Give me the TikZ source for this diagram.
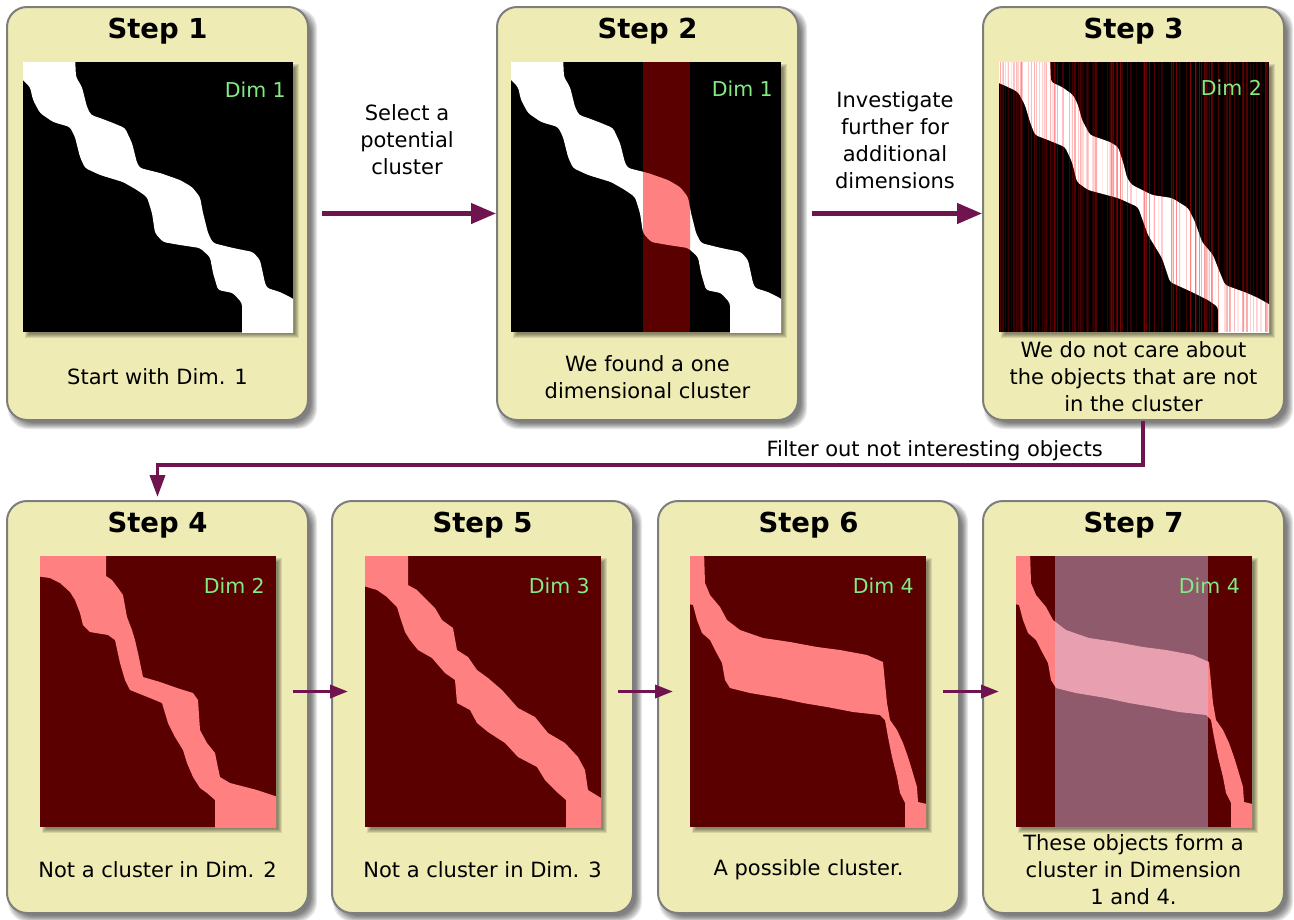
\documentclass[tikz,border=0pt]{standalone}
\usepackage{fontspec}
\setmainfont{DejaVu Sans}
\usetikzlibrary{arrows.meta,calc}
\definecolor{cardfill}{RGB}{238,236,180}
\definecolor{cardborder}{RGB}{125,125,125}
\definecolor{arrowc}{RGB}{112,20,80}
\definecolor{dimgreen}{RGB}{130,235,130}
\definecolor{dred}{RGB}{90,0,0}
\definecolor{pinkc}{RGB}{255,128,128}
\definecolor{mauve}{RGB}{143,90,108}
\definecolor{lpink}{RGB}{232,160,176}
\pgfdeclarelayer{shadow}
\pgfsetlayers{shadow,main}

\newcommand\shapeA[1]{\fill[#1,rounded corners=3pt] (-5,-5) -- (52,-5) -- (53,15) -- (59,25) -- (64,45) -- (68,53) -- (77,56) -- (90,61) -- (102,66) -- (109,81) -- (114,101) -- (117,106) -- (137,111) -- (157,118) -- (169,125) -- (177,135) -- (180,151) -- (185,171) -- (190,181) -- (210,186) -- (230,190) -- (237,198) -- (242,221) -- (244,226) -- (257,230) -- (267,235) -- (275,240) -- (275,275) -- (219,275) -- (219,241) -- (210,231) -- (195,228) -- (190,211) -- (187,195) -- (177,186) -- (157,183) -- (140,180) -- (132,171) -- (129,151) -- (124,135) -- (114,128) -- (100,120) -- (77,113) -- (62,106) -- (57,95) -- (52,75) -- (47,65) -- (30,60) -- (17,51) -- (10,38) -- (7,25) -- (-5,13) -- cycle;}
\newcommand\shapeB[1]{\fill[#1,rounded corners=3pt] (-5,-5) -- (51,-5) -- (52,20) -- (63,25) -- (74,33) -- (79,43) -- (83,58) -- (91,73) -- (111,80) -- (119,85) -- (124,100) -- (128,116) -- (133,123) -- (153,133) -- (173,136) -- (189,146) -- (196,160) -- (203,180) -- (214,193) -- (219,206) -- (226,223) -- (248,231) -- (259,236) -- (275,245) -- (275,275) -- (219,275) -- (219,245) -- (209,238) -- (193,230) -- (171,220) -- (163,196) -- (149,173) -- (139,145) -- (119,136) -- (89,128) -- (78,120) -- (73,100) -- (66,85) -- (49,78) -- (36,73) -- (31,60) -- (26,43) -- (19,30) -- (9,25) -- (-5,19) -- cycle;}
\newcommand\shapeC[1]{\fill[#1] (-5,-5) -- (66,-5) -- (66,20) -- (72,24) -- (78,32) -- (83,39) -- (87,61) -- (92,74) -- (95,84) -- (98,97) -- (103,121) -- (120,126) -- (137,132) -- (153,137) -- (158,144) -- (160,174) -- (167,187) -- (175,197) -- (177,207) -- (180,221) -- (190,227) -- (217,234) -- (241,242) -- (241,276) -- (175,276) -- (175,244) -- (167,237) -- (160,232) -- (153,221) -- (147,207) -- (143,194) -- (135,181) -- (128,167) -- (122,147) -- (110,142) -- (90,134) -- (85,124) -- (80,107) -- (75,84) -- (68,79) -- (50,76) -- (43,69) -- (40,57) -- (35,44) -- (30,36) -- (20,27) -- (10,22) -- (-5,20) -- cycle;}
\newcommand\shapeE[1]{\fill[#1] (-5,-5) -- (43,-5) -- (43,29) -- (52,34) -- (60,42) -- (70,52) -- (77,64) -- (88,72) -- (92,94) -- (103,101) -- (112,114) -- (123,122) -- (137,134) -- (153,152) -- (170,161) -- (183,177) -- (200,187) -- (213,201) -- (220,214) -- (223,234) -- (241,245) -- (241,276) -- (201,276) -- (201,244) -- (193,237) -- (180,224) -- (172,211) -- (153,201) -- (140,187) -- (123,176) -- (112,167) -- (105,154) -- (92,147) -- (90,124) -- (80,117) -- (67,102) -- (53,94) -- (45,84) -- (40,76) -- (35,61) -- (32,51) -- (22,41) -- (12,34) -- (-5,29) -- cycle;}
\newcommand\shapeD[1]{\fill[#1] (-5,-5) -- (14,-5) -- (15,27) -- (20,39) -- (30,51) -- (37,64) -- (50,74) -- (73,82) -- (100,86) -- (127,91) -- (150,94) -- (177,99) -- (193,106) -- (197,147) -- (200,164) -- (207,174) -- (213,187) -- (218,201) -- (222,214) -- (227,231) -- (228,246) -- (241,249) -- (241,276) -- (215,276) -- (215,247) -- (210,237) -- (207,221) -- (202,201) -- (198,181) -- (195,164) -- (190,159) -- (163,156) -- (137,151) -- (113,147) -- (90,142) -- (60,137) -- (40,132) -- (35,124) -- (32,107) -- (25,94) -- (20,84) -- (12,77) -- (7,64) -- (3,49) -- (-5,47) -- cycle;}

\newcommand\cardshadow[1]{%
  \foreach \e in {0,...,6}{%
    \pgfmathsetmacro\lo{8-\e}%
    \pgfmathsetmacro\hi{2+\e}%
    \fill[black,opacity=0.09,rounded corners=20pt] ($(#1.north west)+(\lo,\lo)$) rectangle ($(#1.south east)+(\hi,\hi)$);}}
\newcommand\imgshadow[1]{%
  \foreach \e in {0,...,4}{%
    \pgfmathsetmacro\lo{6-\e}%
    \pgfmathsetmacro\hi{2+\e}%
    \fill[black,opacity=0.1] ($(#1.north west)+(\lo,\lo)$) rectangle ($(#1.south east)+(\hi,\hi)$);}}

\begin{document}
\begin{tikzpicture}[x=1pt,y=-1pt,
  card/.style={draw=cardborder,line width=2pt,fill=cardfill,rounded corners=20pt,minimum width=301pt,minimum height=413pt,inner sep=0pt},
  picTop/.style={minimum width=270pt,minimum height=270pt,inner sep=0pt,outer sep=0pt},
  picBot/.style={minimum width=236pt,minimum height=271pt,inner sep=0pt,outer sep=0pt},
  ttl/.style={font=\fontsize{27.5}{33}\selectfont\bfseries,anchor=base,inner sep=0pt},
  body/.style={font=\fontsize{21}{27}\selectfont,align=center,inner sep=0pt},
  lbl/.style={font=\fontsize{21}{27}\selectfont,align=center,inner sep=0pt},
  dimlbl/.style={font=\fontsize{20.5}{24}\selectfont,text=dimgreen,anchor=base east,inner sep=0pt},
  arrT/.style={draw=arrowc,line width=4.5pt,-{Triangle[length=25pt,width=20pt]}},
  arrB/.style={draw=arrowc,line width=3.5pt,-{Triangle[length=18pt,width=13pt]}},
  arrF/.style={draw=arrowc,line width=3.5pt,-{Triangle[length=22pt,width=15pt]},shorten >=3pt}
]
\useasboundingbox (0,0) rectangle (1294,919);

% cards
\node[card] (c1) at (157.5,213.5) {};
\node[card] (c2) at (647.5,213.5) {};
\node[card] (c3) at (1133.5,213.5) {};
\node[card,minimum height=412pt] (c4) at (157.5,707) {};
\node[card,minimum height=412pt] (c5) at (482.5,707) {};
\node[card,minimum height=412pt] (c6) at (808.5,707) {};
\node[card,minimum height=412pt] (c7) at (1133.5,707) {};

\begin{pgfonlayer}{shadow}
  \fill[white] (0,0) rectangle (1294,919);
  \foreach \c in {c1,c2,c3,c4,c5,c6,c7}{\cardshadow{\c}}
\end{pgfonlayer}

% titles
\foreach \n in {1,...,7}{\node[ttl] (t\n) at ($(c\n.north)+(0,32)$) {Step \n};}

% image frames
\node[picTop] (i1) at (158,197) {};
\node[picTop] (i2) at (646,197) {};
\node[picTop] (i3) at (1134,197) {};
\node[picBot] (i4) at (158,691.5) {};
\node[picBot] (i5) at (483,691.5) {};
\node[picBot] (i6) at (808,691.5) {};
\node[picBot] (i7) at (1134,691.5) {};
\foreach \c in {i1,i2,i3,i4,i5,i6,i7}{\imgshadow{\c}}

% step 1
\begin{scope}[shift={(i1.north west)}]
  \clip (0,0) rectangle (270,270);
  \fill[black] (0,0) rectangle (270,270);
  \shapeA{white}
\end{scope}
% step 2
\begin{scope}[shift={(i2.north west)}]
  \clip (0,0) rectangle (270,270);
  \fill[black] (0,0) rectangle (270,270);
  \shapeA{white}
  \fill[dred] (132,0) rectangle (179,270);
  \begin{scope}
    \clip (132,0) rectangle (179,270);
    \shapeA{pinkc}
  \end{scope}
\end{scope}
% step 3
\begin{scope}[shift={(i3.north west)}]
  \clip (0,0) rectangle (270,270);
  \fill[black] (0,0) rectangle (270,270);
  \shapeB{white}
  \pgfmathsetseed{4242}
  \foreach \k in {1,...,150}{%
    \pgfmathsetmacro\sx{rnd*270}%
    \pgfmathsetmacro\so{0.04+0.3*rnd}%
    \pgfmathsetmacro\sw{0.4+1.2*rnd}%
    \draw[red,opacity=\so,line width=\sw pt] (\sx,0) -- (\sx,270);}
\end{scope}
% step 4
\begin{scope}[shift={(i4.north west)}]
  \clip (0,0) rectangle (236,271);
  \fill[dred] (0,0) rectangle (236,271);
  \shapeC{pinkc}
\end{scope}
% step 5
\begin{scope}[shift={(i5.north west)}]
  \clip (0,0) rectangle (236,271);
  \fill[dred] (0,0) rectangle (236,271);
  \shapeE{pinkc}
\end{scope}
% step 6
\begin{scope}[shift={(i6.north west)}]
  \clip (0,0) rectangle (236,271);
  \fill[dred] (0,0) rectangle (236,271);
  \shapeD{pinkc}
\end{scope}
% step 7
\begin{scope}[shift={(i7.north west)}]
  \clip (0,0) rectangle (236,271);
  \fill[dred] (0,0) rectangle (236,271);
  \shapeD{pinkc}
  \fill[mauve] (39,0) rectangle (192,271);
  \begin{scope}
    \clip (39,0) rectangle (192,271);
    \shapeD{lpink}
  \end{scope}
\end{scope}

% dim labels
\node[dimlbl] (d1) at ($(i1.north east)+(-7,35)$) {Dim 1};
\node[dimlbl] (d2) at ($(i2.north east)+(-8,34)$) {Dim 1};
\node[dimlbl] (d3) at ($(i3.north east)+(-7,33)$) {Dim 2};
\node[dimlbl] (d4) at ($(i4.north east)+(-11,37)$) {Dim 2};
\node[dimlbl] (d5) at ($(i5.north east)+(-11,37)$) {Dim 3};
\node[dimlbl] (d6) at ($(i6.north east)+(-12,37)$) {Dim 4};
\node[dimlbl] (d7) at ($(i7.north east)+(-12,37)$) {Dim 4};

% body texts
\node[body] (b1) at ($(c1.south)+(0,-44)$) {Start with Dim. 1};
\node[body] (b2) at ($(c2.south)+(0,-44)$) {We found a one\\dimensional cluster};
\node[body] (b3) at ($(c3.south)+(0,-44)$) {We do not care about\\the objects that are not\\in the cluster};
\node[body] (b4) at ($(c4.south)+(0,-44)$) {Not a cluster in Dim. 2};
\node[body] (b5) at ($(c5.south)+(0,-44)$) {Not a cluster in Dim. 3};
\node[body] (b6) at ($(c6.south)+(0,-44)$) {A possible cluster.};
\node[body] (b7) at ($(c7.south)+(0,-44)$) {These objects form a\\cluster in Dimension\\1 and 4.};

% arrows
\draw[arrT] ([xshift=13pt]c1.east) -- (c2.west);
\draw[arrT] ([xshift=13pt]c2.east) -- (c3.west);
\node[lbl] (l1) at (407,139.5) {Select a\\potential\\cluster};
\node[lbl] (l2) at (895,140) {Investigate\\further for\\additional\\dimensions};
\draw[arrF] ([xshift=9.5pt]c3.south) -- ++(0,44) -| (c4.north);
\node[lbl,anchor=base east] (l3) at (1103,456) {Filter out not interesting objects};
\draw[arrB] ([xshift=17pt]i4.east) -- ([xshift=-17pt]i5.west);
\draw[arrB] ([xshift=17pt]i5.east) -- ([xshift=-17pt]i6.west);
\draw[arrB] ([xshift=17pt]i6.east) -- ([xshift=-17pt]i7.west);
\end{tikzpicture}
\end{document}
